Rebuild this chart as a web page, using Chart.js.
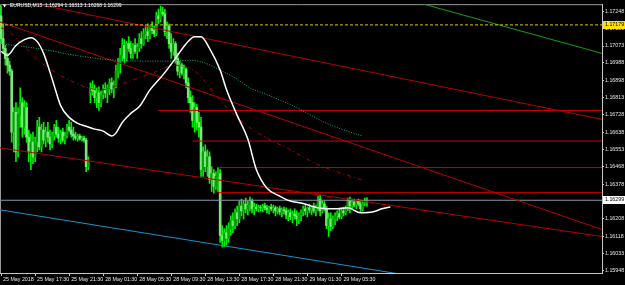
<!DOCTYPE html>
<html>
<head>
<meta charset="utf-8">
<script src="https://cdn.jsdelivr.net/npm/chart.js@4.4.1/dist/chart.umd.min.js"></script>
<style>
html, body { margin: 0; padding: 0; background: #000; }
canvas { display: block; }
</style>
</head>
<body>
<canvas id="chart" width="625" height="285"></canvas>
<script>
const symbol = 'EURUSD,M15';

// 15 minute bars, 25 May 13:30 .. 29 May 08:30 (weekend gap after bar 41)
const opens = [
    1.17224,1.17110,1.17061,1.17011,1.16977,1.16947,1.16641,1.16740,1.16542,1.16730,
    1.16789,1.16666,1.16764,1.16616,1.16542,1.16591,1.16517,1.16591,1.16666,1.16567,
    1.16651,1.16601,1.16641,1.16616,1.16582,1.16626,1.16666,1.16631,1.16611,1.16641,
    1.16601,1.16621,1.16666,1.16651,1.16631,1.16621,1.16611,1.16621,1.16606,1.16611,
    1.16601,1.16468,
    1.16838,1.16863,1.16848,1.16814,1.16838,1.16789,1.16829,1.16858,1.16838,1.16868,
    1.16888,1.16858,1.16878,1.16947,1.16987,1.17026,1.17076,1.17011,1.17085,1.17061,
    1.17036,1.17076,1.17046,1.17066,1.17110,1.17085,1.17135,1.17145,1.17125,1.17160,
    1.17150,1.17135,1.17224,1.17209,1.17243,1.17234,1.17145,1.17174,1.17085,1.17046,
    1.17085,1.17011,1.16947,1.16977,1.16937,1.16957,1.16888,1.16814,1.16789,1.16700,
    1.16764,1.16690,1.16666,1.16453,1.16542,1.16468,1.16517,1.16404,1.16433,1.16369,
    1.16419,1.16433,1.16122,1.16097,1.16137,1.16107,1.16157,1.16196,1.16172,1.16236,
    1.16206,1.16270,1.16246,1.16280,1.16256,1.16275,1.16295,1.16256,1.16265,1.16256,
    1.16265,1.16261,1.16270,1.16261,1.16251,1.16265,1.16256,1.16261,1.16246,1.16256,
    1.16241,1.16251,1.16246,1.16226,1.16236,1.16216,1.16231,1.16221,1.16206,1.16226,
    1.16241,1.16256,1.16246,1.16261,1.16251,1.16265,1.16246,1.16270,1.16305,1.16246,
    1.16280,1.16256,1.16172,1.16206,1.16167,1.16206,1.16221,1.16231,1.16216,1.16246,
    1.16236,1.16261,1.16295,1.16270,1.16290,1.16275,1.16295,1.16280,1.16256,1.16285,
    1.16294
];
const highs = [
    1.17273,1.17184,1.17076,1.17036,1.16997,1.16957,1.16764,1.16789,1.16764,1.16863,
    1.16814,1.16799,1.16789,1.16651,1.16631,1.16641,1.16616,1.16700,1.16715,1.16680,
    1.16690,1.16666,1.16690,1.16651,1.16641,1.16680,1.16700,1.16666,1.16651,1.16661,
    1.16641,1.16680,1.16700,1.16690,1.16666,1.16641,1.16631,1.16631,1.16621,1.16621,
    1.16611,1.16517,
    1.16888,1.16898,1.16878,1.16863,1.16868,1.16848,1.16878,1.16888,1.16878,1.16908,
    1.16913,1.16898,1.16977,1.17011,1.17061,1.17110,1.17105,1.17095,1.17120,1.17095,
    1.17085,1.17110,1.17085,1.17135,1.17145,1.17160,1.17174,1.17184,1.17174,1.17194,
    1.17174,1.17243,1.17258,1.17273,1.17268,1.17258,1.17194,1.17184,1.17135,1.17110,
    1.17095,1.17036,1.16997,1.16987,1.16977,1.16967,1.16913,1.16848,1.16824,1.16789,
    1.16779,1.16740,1.16715,1.16567,1.16577,1.16552,1.16542,1.16468,1.16453,1.16443,
    1.16463,1.16453,1.16172,1.16157,1.16172,1.16186,1.16221,1.16236,1.16256,1.16270,
    1.16295,1.16305,1.16295,1.16310,1.16295,1.16315,1.16305,1.16285,1.16280,1.16275,
    1.16275,1.16280,1.16285,1.16275,1.16270,1.16280,1.16275,1.16270,1.16265,1.16270,
    1.16261,1.16265,1.16261,1.16251,1.16256,1.16246,1.16256,1.16246,1.16236,1.16251,
    1.16270,1.16275,1.16265,1.16280,1.16270,1.16285,1.16275,1.16320,1.16325,1.16295,
    1.16295,1.16270,1.16236,1.16236,1.16221,1.16236,1.16246,1.16256,1.16261,1.16265,
    1.16270,1.16310,1.16315,1.16305,1.16305,1.16300,1.16305,1.16300,1.16295,1.16310,
    1.16313
];
const lows = [
    1.17085,1.17036,1.16977,1.16937,1.16927,1.16591,1.16542,1.16493,1.16517,1.16666,
    1.16616,1.16631,1.16591,1.16493,1.16453,1.16483,1.16493,1.16542,1.16552,1.16542,
    1.16582,1.16567,1.16591,1.16552,1.16562,1.16601,1.16616,1.16591,1.16582,1.16591,
    1.16582,1.16611,1.16641,1.16616,1.16601,1.16601,1.16596,1.16601,1.16596,1.16591,
    1.16443,1.16453,
    1.16789,1.16829,1.16789,1.16764,1.16750,1.16769,1.16809,1.16814,1.16789,1.16829,
    1.16838,1.16814,1.16863,1.16913,1.16937,1.16997,1.16987,1.16997,1.17046,1.17011,
    1.17011,1.17036,1.17011,1.17046,1.17061,1.17076,1.17110,1.17095,1.17110,1.17135,
    1.17120,1.17125,1.17184,1.17194,1.17224,1.17125,1.17110,1.17061,1.17011,1.17026,
    1.16987,1.16927,1.16913,1.16927,1.16908,1.16863,1.16789,1.16740,1.16666,1.16641,
    1.16651,1.16616,1.16419,1.16419,1.16443,1.16419,1.16384,1.16344,1.16335,1.16354,
    1.16344,1.16088,1.16063,1.16068,1.16073,1.16088,1.16122,1.16137,1.16157,1.16172,
    1.16186,1.16221,1.16206,1.16236,1.16226,1.16246,1.16236,1.16226,1.16246,1.16241,
    1.16246,1.16241,1.16251,1.16236,1.16231,1.16246,1.16236,1.16221,1.16231,1.16226,
    1.16216,1.16231,1.16206,1.16196,1.16201,1.16186,1.16206,1.16172,1.16181,1.16196,
    1.16221,1.16226,1.16216,1.16236,1.16226,1.16236,1.16221,1.16246,1.16221,1.16236,
    1.16246,1.16157,1.16117,1.16147,1.16157,1.16176,1.16196,1.16206,1.16206,1.16221,
    1.16226,1.16246,1.16236,1.16256,1.16265,1.16256,1.16270,1.16241,1.16246,1.16270,
    1.16268
];
const closes = [
    1.17110,1.17061,1.17011,1.16977,1.16947,1.16641,1.16740,1.16542,1.16730,1.16789,
    1.16666,1.16764,1.16616,1.16542,1.16591,1.16517,1.16591,1.16666,1.16567,1.16651,
    1.16601,1.16641,1.16616,1.16582,1.16626,1.16666,1.16631,1.16611,1.16641,1.16601,
    1.16621,1.16666,1.16651,1.16631,1.16621,1.16611,1.16621,1.16606,1.16611,1.16601,
    1.16468,1.16503,
    1.16863,1.16848,1.16814,1.16838,1.16789,1.16829,1.16858,1.16838,1.16868,1.16888,
    1.16858,1.16878,1.16947,1.16987,1.17026,1.17076,1.17011,1.17085,1.17061,1.17036,
    1.17076,1.17046,1.17066,1.17110,1.17085,1.17135,1.17145,1.17125,1.17160,1.17150,
    1.17135,1.17224,1.17209,1.17243,1.17234,1.17145,1.17174,1.17085,1.17046,1.17085,
    1.17011,1.16947,1.16977,1.16937,1.16957,1.16888,1.16814,1.16789,1.16700,1.16764,
    1.16690,1.16666,1.16453,1.16542,1.16468,1.16517,1.16404,1.16433,1.16369,1.16419,
    1.16433,1.16122,1.16097,1.16137,1.16107,1.16157,1.16196,1.16172,1.16236,1.16206,
    1.16270,1.16246,1.16280,1.16256,1.16275,1.16295,1.16256,1.16265,1.16256,1.16265,
    1.16261,1.16270,1.16261,1.16251,1.16265,1.16256,1.16261,1.16246,1.16256,1.16241,
    1.16251,1.16246,1.16226,1.16236,1.16216,1.16231,1.16221,1.16206,1.16226,1.16241,
    1.16256,1.16246,1.16261,1.16251,1.16265,1.16246,1.16270,1.16305,1.16246,1.16280,
    1.16256,1.16172,1.16206,1.16167,1.16206,1.16221,1.16231,1.16216,1.16246,1.16236,
    1.16261,1.16295,1.16270,1.16290,1.16275,1.16295,1.16280,1.16256,1.16285,1.16295,
    1.16299
];

// time axis: bar index of each label
const timeIdx = [0, 16, 32, 48, 64, 80, 96, 112, 128, 144, 160];
const timeLabels = ['25 May 2018', '25 May 17:30', '25 May 21:30', '28 May 01:30', '28 May 05:30',
    '28 May 09:30', '28 May 13:30', '28 May 17:30', '28 May 21:30', '29 May 01:30', '29 May 05:30'];
const priceTicks = [1.17248, 1.17159, 1.17073, 1.16988, 1.16898, 1.16813, 1.16728, 1.16638,
    1.16553, 1.16468, 1.16378, 1.16293, 1.16208, 1.16118, 1.16033, 1.15948];

// moving averages (bar index / price)
const whiteMaIdx = [0,3,7,11,14,17,20,23,25,28,32,36,40,44,48,52,54,57,61,65,70,76,82,87,91,94,98,
    103,106,111,116,120,125,131,136,141,149,153,158,163,169,175,179,183];
const whiteMa = [1.17046,1.17026,1.17076,1.17105,1.17115,1.17095,1.17036,1.16942,1.16873,1.16774,
    1.16715,1.16685,1.16670,1.16656,1.16646,1.16621,1.16636,1.16690,1.16735,1.16769,
    1.16853,1.16927,1.17011,1.17085,1.17120,1.17120,1.17061,1.16952,1.16853,1.16725,
    1.16606,1.16453,1.16359,1.16320,1.16295,1.16285,1.16261,1.16256,1.16256,1.16261,
    1.16236,1.16241,1.16256,1.16265];
const tealMaIdx = [0,10,20,35,55,75,89,96,103,110,117,125,136,145,152,160,170];
const tealMa = [1.17085,1.17071,1.17056,1.17026,1.17001,1.16997,1.17001,1.16987,1.16952,1.16913,
    1.16863,1.16829,1.16779,1.16730,1.16690,1.16656,1.16621];
const redMaIdx = [0,3,18,37,47,58,71,82,85,91,104,112,120,136,149,170];
const redMa = [1.17164,1.17150,1.16997,1.16878,1.16853,1.16888,1.16937,1.16977,1.16972,1.16947,
    1.16789,1.16705,1.16641,1.16552,1.16478,1.16399];

// drawn objects
const trendAIdx = [-0.5, 282.5];
const trendA = [1.17194, 1.16152];
const trendBIdx = [17, 282.5];
const trendB = [1.17283, 1.16705];
const trendCIdx = [-0.5, 282.5];
const trendC = [1.16562, 1.16117];
const greenIdx = [198.8, 282.5];
const greenTrend = [1.17283, 1.17036];
const blueIdx = [-0.5, 282.5];
const blueTrend = [1.16251, 1.15766];
const levelStarts = [74, 90, 102, 102];
const levels = [1.16750, 1.16596, 1.16463, 1.16337];
const markLevel = 1.17179;
const bidLevel = 1.16299;

const lastBar = 282.5;

function points(idx, vals) {
    return idx.map((x, i) => ({ x: x, y: vals[i] }));
}

function lineSet(data, color, extra) {
    return Object.assign({
        type: 'line',
        data: data,
        borderColor: color,
        borderWidth: 1,
        pointRadius: 0,
        fill: false,
        tension: 0,
        order: 2,
    }, extra || {});
}

const wicks = opens.map((o, i) => ({ x: i, y: [lows[i], highs[i]] }));
const bodies = opens.map((o, i) => ({ x: i, y: [o, closes[i]] }));
const bodyColors = opens.map((o, i) => closes[i] >= o ? '#00a400' : '#78e878');

const datasets = [
    {
        data: wicks,
        backgroundColor: '#00f000',
        barThickness: 1,
        grouped: false,
        order: 10,
    },
    {
        data: bodies,
        backgroundColor: bodyColors,
        barThickness: 2,
        minBarLength: 1,
        grouped: false,
        order: 9,
    },
    lineSet(points([-0.5, lastBar], [bidLevel, bidLevel]), '#8c96a8', { order: 8 }),
    lineSet(points([-0.5, lastBar], [markLevel, markLevel]), '#e8c800', { borderDash: [3, 2] }),
    lineSet(points(tealMaIdx, tealMa), '#10b080', { borderDash: [1, 1.5], cubicInterpolationMode: 'monotone' }),
    lineSet(points(redMaIdx, redMa), '#b00000', { borderDash: [4, 3, 1, 3], cubicInterpolationMode: 'monotone' }),
    lineSet(points(trendAIdx, trendA), '#b80000'),
    lineSet(points(trendBIdx, trendB), '#b80000'),
    lineSet(points(trendCIdx, trendC), '#b80000'),
    lineSet(points(greenIdx, greenTrend), '#16a016'),
    lineSet(points(blueIdx, blueTrend), '#1a94cc'),
];

levels.forEach((lvl, i) => {
    datasets.push(lineSet(points([levelStarts[i], lastBar], [lvl, lvl]), '#d40000'));
});

datasets.push(lineSet(points(whiteMaIdx, whiteMa), '#ffffff', {
    borderWidth: 1.5, cubicInterpolationMode: 'monotone', order: 1,
}));

const axisFont = { family: 'Liberation Sans', size: 5.3 };

function drawTag(ctx, x, y, text, bg) {
    const top = Math.round(y) - 4;
    ctx.fillStyle = bg;
    ctx.fillRect(x + 1, top, 22, 8);
    ctx.fillStyle = '#000';
    ctx.fillText(text, x + 3, top + 4);
}

const overlay = {
    id: 'overlay',
    beforeDatasetsDraw(chart) {
        const { ctx, chartArea: a } = chart;
        ctx.save();
        ctx.strokeStyle = '#9a9a9a';
        ctx.lineWidth = 1;
        ctx.beginPath();
        ctx.moveTo(a.left + 0.5, a.bottom);
        ctx.lineTo(a.left + 0.5, a.top + 0.5);
        ctx.lineTo(a.right, a.top + 0.5);
        ctx.stroke();
        ctx.restore();
    },
    afterDraw(chart) {
        const { ctx, chartArea: a, scales } = chart;
        const n = opens.length - 1;
        ctx.save();
        ctx.textBaseline = 'middle';
        ctx.fillStyle = '#ffffff';
        ctx.font = '4px "DejaVu Sans"';
        ctx.fillText('\u25BC', 3, 6);
        ctx.font = '5px "Liberation Sans"';
        const header = symbol + '  ' + [opens[n], highs[n], lows[n], closes[n]]
            .map(v => v.toFixed(5)).join(' ');
        ctx.fillText(header, 10, 6);

        ctx.font = '5.3px "Liberation Sans"';
        drawTag(ctx, a.right, scales.y.getPixelForValue(markLevel), markLevel.toFixed(5), '#ffe000');
        drawTag(ctx, a.right, scales.y.getPixelForValue(bidLevel), bidLevel.toFixed(5), '#ffffff');
        ctx.restore();
    },
};

new Chart(document.getElementById('chart'), {
    type: 'bar',
    data: { datasets: datasets },
    options: {
        responsive: false,
        animation: false,
        devicePixelRatio: 1,
        layout: { padding: 0 },
        plugins: {
            legend: { display: false },
            tooltip: { enabled: false },
        },
        scales: {
            x: {
                type: 'linear',
                min: -0.5,
                max: lastBar,
                offset: false,
                afterFit(scale) { scale.height = 12; },
                afterBuildTicks(scale) { scale.ticks = timeIdx.map(v => ({ value: v })); },
                grid: { offset: false, drawOnChartArea: false, drawTicks: true, tickLength: 3, color: '#c8c8c8' },
                border: { color: '#c8c8c8' },
                ticks: {
                    autoSkip: false,
                    maxRotation: 0,
                    minRotation: 0,
                    align: 'start',
                    labelOffset: 2,
                    padding: 0,
                    color: '#e6e6e6',
                    font: axisFont,
                    callback: (v) => timeLabels[timeIdx.indexOf(v)],
                },
            },
            y: {
                type: 'linear',
                position: 'right',
                min: 1.15934,
                max: 1.17283,
                beginAtZero: false,
                afterFit(scale) { scale.width = 23; },
                afterBuildTicks(scale) { scale.ticks = priceTicks.map(v => ({ value: v })); },
                grid: { drawOnChartArea: false, drawTicks: true, tickLength: 2, color: '#c8c8c8' },
                border: { color: '#c8c8c8' },
                ticks: {
                    padding: 1,
                    color: '#e6e6e6',
                    font: axisFont,
                    callback: (v) => v.toFixed(5),
                },
            },
        },
    },
    plugins: [overlay],
});
</script>
</body>
</html>
